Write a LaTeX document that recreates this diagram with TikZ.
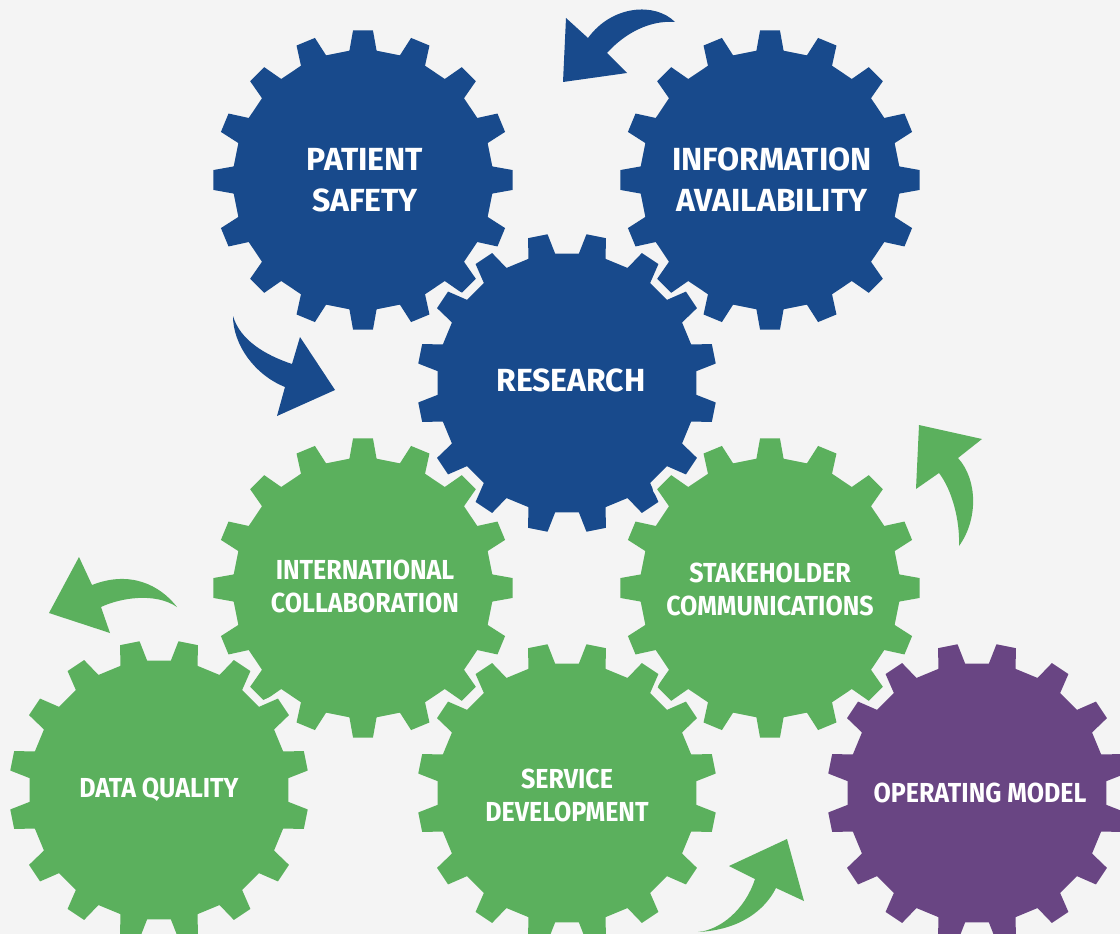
\documentclass[tikz,border=0pt]{standalone}
\usepackage{fontspec}
\setmainfont{Fira Sans}
\newfontfamily\narrowfont{Fira Sans}[FakeStretch=0.91]
\usepackage{tikz}

\definecolor{bgc}{HTML}{F4F4F4}
\definecolor{cogblue}{HTML}{184A8C}
\definecolor{coggreen}{HTML}{5BB05D}
\definecolor{cogpurple}{HTML}{694583}

\newcommand{\cogoutline}{(-6:130) \foreach \t in {0,22.5,...,337.5}{ -- ({\t-6}:130) -- ({\t-3.8}:150) -- ({\t+3.8}:150) -- ({\t+6}:130)} -- cycle}

\tikzset{
	cogwheel/.pic={
		\draw[bgc, line width=9pt, line join=round] \cogoutline;
		\path[pic actions] \cogoutline;
	},
	cogtext/.style={text=white, align=center, inner sep=0pt, font=\narrowfont\bfseries\fontsize{27.5}{33}\selectfont},
	bigtext/.style={font=\bfseries\fontsize{32}{41}\selectfont}
}

\begin{document}
\begin{tikzpicture}[x=1pt, y=-1pt]
	\fill[bgc] (0,0) rectangle (1120,934);
	\clip (0,0) rectangle (1120,934);

	\pic[fill=cogblue] at (363,180) {cogwheel};
	\pic[fill=cogblue] at (770,180) {cogwheel};
	\pic[fill=cogblue, rotate=11.25] at (567,383) {cogwheel};
	\pic[fill=coggreen] at (363,588) {cogwheel};
	\pic[fill=coggreen] at (770,588) {cogwheel};
	\pic[fill=coggreen, rotate=11.25] at (159,790) {cogwheel};
	\pic[fill=coggreen, rotate=11.25] at (567,793) {cogwheel};
	\pic[fill=cogpurple, rotate=11.25] at (977,793) {cogwheel};

	\node[cogtext, bigtext] (safety) at (365,180) {PATIENT\\SAFETY};
	\node[cogtext, bigtext] (info) at (772,180) {INFORMATION\\AVAILABILITY};
	\node[cogtext, bigtext] (research) at (571,380) {RESEARCH};
	\node[cogtext] (collab) at (365,586) {INTERNATIONAL\\COLLABORATION};
	\node[cogtext] (stake) at (770,589) {STAKEHOLDER\\COMMUNICATIONS};
	\node[cogtext] (quality) at (159,790) {DATA QUALITY};
	\node[cogtext] (service) at (567,795) {SERVICE\\DEVELOPMENT};
	\node[cogtext] (model) at (980,793) {OPERATING MODEL};

	% turning arrows
	\fill[cogblue] (675,22) .. controls (655,2) and (612,5) .. (588,38) -- (566,18) -- (563,82) -- (627,73) -- (607,53) .. controls (625,33) and (650,20) .. cycle;
	\fill[cogblue] (233,316) .. controls (233,345) and (255,375) .. (285,387) -- (277,416) -- (335,390) -- (300,337) -- (292,364) .. controls (265,355) and (240,340) .. cycle;
	\fill[coggreen] (959,546) .. controls (978,520) and (978,480) .. (958,458) -- (982,439) -- (919,425) -- (916,489) -- (939,473) .. controls (952,490) and (960,520) .. cycle;
	\fill[coggreen] (177,607) .. controls (160,585) and (130,570) .. (92,585) -- (79,557) -- (49,613) -- (110,633) -- (101,607) .. controls (120,598) and (155,592) .. cycle;
	\fill[coggreen] (698,932) .. controls (720,930) and (745,910) .. (755,879) -- (729,866) -- (787,839) -- (804,901) -- (776,888) .. controls (765,910) and (740,930) .. cycle;
\end{tikzpicture}
\end{document}
